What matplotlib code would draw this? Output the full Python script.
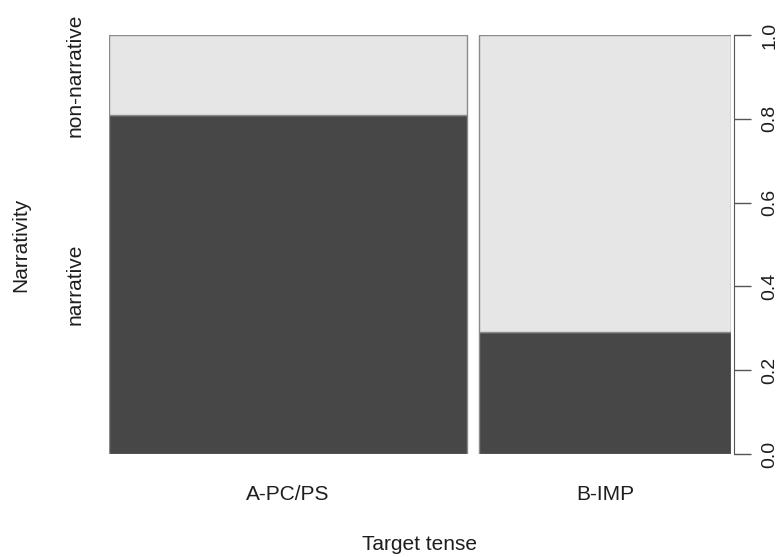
import matplotlib.pyplot as plt

# spineplot data
categories = ["A-PC/PS", "B-IMP"]
widths = [0.587, 0.413]          # share of observations per tense
narrative = [0.809, 0.29]        # proportion narrative within each tense
levels = ["narrative", "non-narrative"]
yticks = [0.0, 0.2, 0.4, 0.6, 0.8, 1.0]

plt.rcParams['font.family'] = ['Liberation Sans', 'DejaVu Sans']

dark = "#474747"
light = "#e6e6e6"
edge = "#8a8a8a"
txt = "#1e1e1e"
fs = 15
gap = 0.02

fig = plt.figure(figsize=(7.84, 5.57), dpi=100)
ax = fig.add_axes([109 / 784, 1 - 454 / 557, (731 - 109) / 784, (454 - 35) / 557])

left = 0.0
centers = []
for w, n in zip(widths, narrative):
    ax.bar(left, n, width=w, bottom=0, align="edge", color=dark,
           edgecolor=edge, linewidth=1)
    ax.bar(left, 1 - n, width=w, bottom=n, align="edge", color=light,
           edgecolor=edge, linewidth=1)
    centers.append(left + w / 2)
    left += w + gap

ax.set_xlim(0, left - gap)
ax.set_ylim(0, 1)

for s in ["top", "left", "bottom"]:
    ax.spines[s].set_visible(False)
ax.spines["right"].set_position(("outward", 2))
ax.spines["right"].set_color("#555555")
ax.yaxis.tick_right()
ax.set_yticks(yticks)
ax.set_yticklabels([f"{t:.1f}" for t in yticks], rotation=90, va="center",
                   fontsize=fs - 1, color=txt)
ax.tick_params(axis="y", length=12, width=1, color="#555555", pad=8)

ax.set_xticks(centers)
ax.set_xticklabels(categories, fontsize=fs, color=txt)
ax.tick_params(axis="x", length=0, pad=22)

# left side level labels, positioned on the first column
n0 = narrative[0]
ax.text(-0.055, n0 / 2, levels[0], rotation=90, ha="center", va="center",
        fontsize=fs, color=txt, transform=ax.get_yaxis_transform())
ax.text(-0.055, (1 + n0) / 2, levels[1], rotation=90, ha="center", va="center",
        fontsize=fs, color=txt, transform=ax.get_yaxis_transform())

fig.text(21 / 784, 1 - 245 / 557, "Narrativity", rotation=90, ha="center",
         va="center", fontsize=fs, color=txt)
fig.text(420 / 784, 1 - 545 / 557, "Target tense", ha="center", va="center",
         fontsize=fs, color=txt)

fig.savefig("out.png", dpi=100)
